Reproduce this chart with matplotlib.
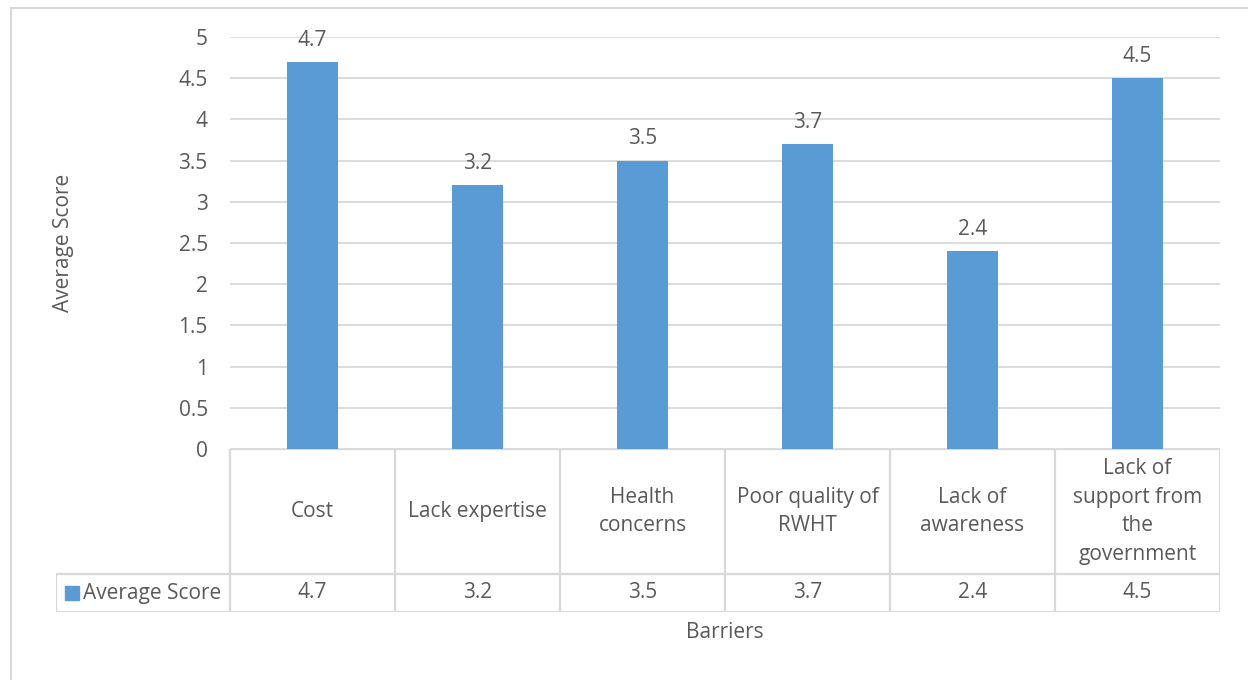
import matplotlib.pyplot as plt
from matplotlib.lines import Line2D
from matplotlib.patches import Rectangle

# barriers and their average scores
barriers = ['Cost', 'Lack expertise', 'Health\nconcerns', 'Poor quality of\nRWHT',
            'Lack of\nawareness', 'Lack of\nsupport from\nthe\ngovernment']
scores = [4.7, 3.2, 3.5, 3.7, 2.4, 4.5]
series_name = 'Average Score'

bar_color = '#5B9BD5'
grid_color = '#D9D9D9'
text_color = '#595959'
fs = 15

plt.rcParams['font.family'] = ['Open Sans', 'DejaVu Sans']

W, H = 1248, 680
fig = plt.figure(figsize=(W / 100, H / 100), dpi=100)

def box(x0, y0, x1, y1):
    # pixel box (top-left origin) -> figure fraction rect
    return [x0 / W, 1 - y1 / H, (x1 - x0) / W, (y1 - y0) / H]

# chart area border (top and left visible)
fig.add_artist(Line2D([11 / W, 1], [1 - 8 / H, 1 - 8 / H], color=grid_color, lw=1.5))
fig.add_artist(Line2D([11 / W, 11 / W], [0, 1 - 8 / H], color=grid_color, lw=1.5))

ax = fig.add_axes(box(230, 37, 1220, 449))
x = range(len(scores))
ax.bar(x, scores, width=0.31, color=bar_color, zorder=3)
ax.set_xlim(-0.5, len(scores) - 0.5)
ax.set_ylim(0, 5)
ax.set_yticks([i * 0.5 for i in range(11)])
ax.set_yticklabels(['{:g}'.format(i * 0.5) for i in range(11)])
ax.tick_params(axis='y', length=0, pad=16, labelsize=fs, labelcolor=text_color)
ax.set_xticks([])
ax.grid(axis='y', color=grid_color, lw=1.3, zorder=0)
for s in ax.spines.values():
    s.set_visible(False)
for xi, v in zip(x, scores):
    ax.annotate('{:g}'.format(v), (xi, v), xytext=(0, 8), textcoords='offset points',
                ha='center', va='bottom', fontsize=fs, color=text_color)
ax.set_ylabel(series_name, fontsize=fs, color=text_color, labelpad=0)
ax.yaxis.set_label_coords(-(230 - 74) / 990, 0.5)

# data table under the plot
key_w = (230 - 56) / 165
tab = fig.add_axes(box(56, 449, 1220, 612))
tab.set_xlim(-0.5 - key_w, len(scores) - 0.5)
tab.set_ylim(0, 1)
tab.axis('off')
split = 38 / 163
n = len(scores)
lk = dict(color=grid_color, lw=1.6, solid_capstyle='projecting')
tab.plot([-0.5, n - 0.5], [1, 1], **lk)
tab.plot([-0.5 - key_w, n - 0.5], [split, split], **lk)
tab.plot([-0.5 - key_w, n - 0.5], [0, 0], **lk)
tab.plot([-0.5 - key_w, -0.5 - key_w], [0, split], **lk)
for i in range(n + 1):
    tab.plot([i - 0.5, i - 0.5], [0, 1], **lk)
for xi, (lab, v) in enumerate(zip(barriers, scores)):
    tab.text(xi, (1 + split) / 2, lab, ha='center', va='center', fontsize=fs,
             color=text_color, linespacing=1.48)
    tab.text(xi, split / 2, '{:g}'.format(v), ha='center', va='center',
             fontsize=fs, color=text_color)

# legend key inside the table
fig.add_artist(Rectangle((65 / W, 1 - 600 / H), 14 / W, 14 / H, color=bar_color))
fig.text(83 / W, 1 - 593 / H, series_name, ha='left', va='center', fontsize=fs,
         color=text_color)

fig.text(725 / W, 1 - 633 / H, 'Barriers', ha='center', va='center',
         fontsize=fs, color=text_color)

fig.savefig('out.png', dpi=100)
